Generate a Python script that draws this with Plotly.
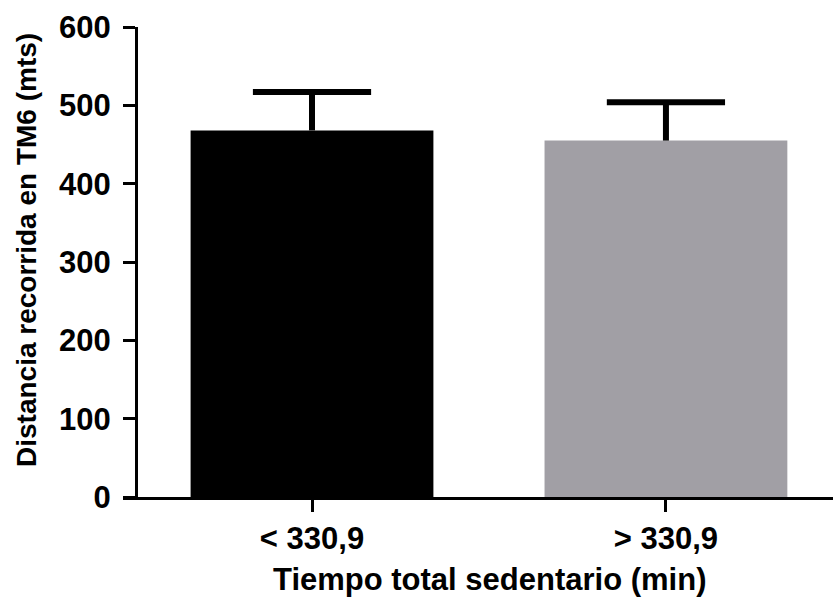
import plotly.graph_objects as go

# ---- data ----
categories = ["< 330,9", "> 330,9"]
means = [468, 455]
sd = [49, 49]
bar_colors = ["#000000", "#a19fa5"]
y_ticks = [0, 100, 200, 300, 400, 500, 600]

x_pos = list(range(len(categories)))
cap_half = 0.167  # cap half width in axis units (style)

FONT = "Liberation Sans, Arial, sans-serif"

fig = go.Figure()
fig.add_trace(go.Bar(
    x=x_pos, y=means,
    marker=dict(color=bar_colors, line=dict(width=0)),
    showlegend=False, hoverinfo="skip",
))

# error bars (upper only) built from data
ex, ey = [], []
for xi, m, s in zip(x_pos, means, sd):
    ex += [xi, xi, None, xi - cap_half, xi + cap_half, None]
    ey += [m, m + s, None, m + s, m + s, None]
fig.add_trace(go.Scatter(
    x=ex, y=ey, mode="lines",
    line=dict(color="#000000", width=6),
    showlegend=False, hoverinfo="skip",
))

fig.update_layout(
    width=833, height=601,
    margin=dict(l=123, r=0, t=27, b=104),
    plot_bgcolor="white", paper_bgcolor="white",
    bargap=0.314,
    xaxis=dict(
        domain=[0, 1],
        range=[-0.534, 1.472],
        tickvals=x_pos, ticktext=categories,
        showgrid=False, zeroline=False,
        showline=True, linecolor="black", linewidth=3,
        ticks="outside", ticklen=12, tickwidth=3, tickcolor="black",
        tickfont=dict(family=FONT, size=31, color="black", weight="bold"),
    ),
    yaxis=dict(
        anchor="free", position=13 / 710,
        range=[0, 600],
        tickvals=y_ticks,
        showgrid=False, zeroline=False,
        showline=True, linecolor="black", linewidth=3,
        ticks="outside", ticklen=12, tickwidth=3, tickcolor="black",
        ticklabelstandoff=6,
        tickfont=dict(family=FONT, size=31, color="black", weight="bold"),
    ),
    annotations=[
        dict(text="Distancia recorrida en TM6 (mts)", textangle=-90,
             xref="paper", yref="paper", x=(27 - 123) / 710, y=(497 - 250) / 470,
             xanchor="center", yanchor="middle", showarrow=False,
             font=dict(family=FONT, size=28, color="black", weight="bold")),
        dict(text="Tiempo total sedentario (min)",
             xref="paper", yref="paper", x=(489 - 123) / 710, y=-(579 - 497) / 470,
             xanchor="center", yanchor="middle", showarrow=False,
             font=dict(family=FONT, size=31, color="black", weight="bold")),
    ],
)

fig.write_html("out.html")
